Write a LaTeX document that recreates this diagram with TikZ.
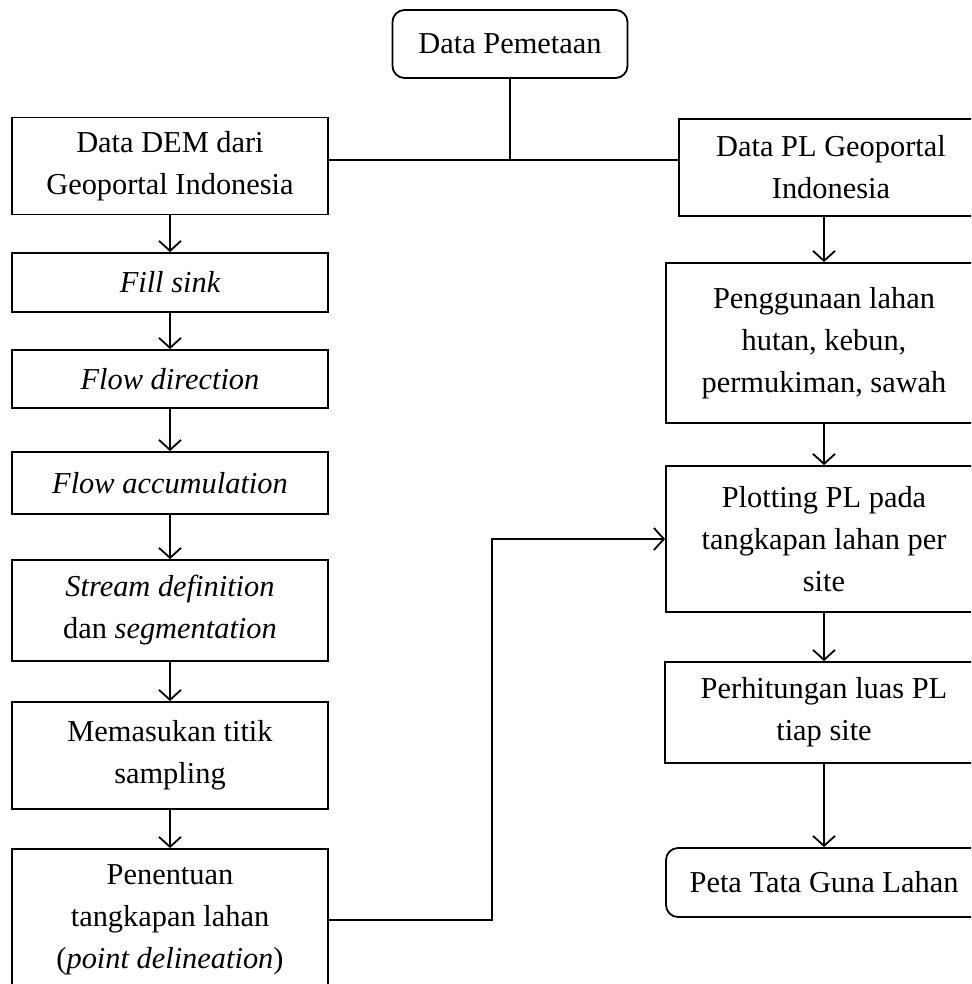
\documentclass[tikz,border=0pt]{standalone}
\usepackage{fontspec}
\setmainfont{Liberation Serif}
\usetikzlibrary{arrows.meta}

\tikzset{
  kotak/.style={draw, rectangle, align=center, inner sep=0pt, font=\fontsize{15.2}{21}\selectfont},
  bulat/.style={kotak, rounded corners=6pt},
}

\begin{document}
\begin{tikzpicture}[x=0.5pt,y=-0.5pt,line width=0.9pt,>={Straight Barb[length=5pt,width=11pt]}]
\clip (0,0) rectangle (971,984);
% sumber data
\node [bulat, minimum width=117.5pt, minimum height=34pt] (Sumber) at (510,44) {Data Pemetaan};
\coordinate (simpul) at (510,160);
\coordinate (belok) at (492,0);
% kolom kiri
\node [kotak, minimum width=158pt, minimum height=48.5pt] (DEM)   at (170,166) {Data DEM dari\\Geoportal Indonesia};
\node [kotak, minimum width=158pt, minimum height=29.5pt] (Fill)  at (170,282.5) {\itshape Fill sink};
\node [kotak, minimum width=158pt, minimum height=29pt]   (Arah)  at (170,379)   {\itshape Flow direction};
\node [kotak, minimum width=158pt, minimum height=31pt]   (Akum)  at (170,483)   {\itshape Flow accumulation};
\node [kotak, minimum width=158pt, minimum height=50.5pt] (Alur)  at (170,610.5) {\textit{Stream definition}\\dan \textit{segmentation}};
\node [kotak, minimum width=158pt, minimum height=53.5pt] (Titik) at (170,755.5) {Memasukan titik\\sampling};
\node [kotak, minimum width=158pt, minimum height=71pt]   (Tentu) at (170,920)   {Penentuan\\tangkapan lahan\\(\textit{point delineation})};
% kolom kanan
\node [kotak, minimum width=152pt, minimum height=48.5pt] (PL)     at (831,167.5) {Data PL Geoportal\\Indonesia};
\node [kotak, minimum width=158pt, minimum height=80pt]   (Guna)   at (824,343)   {Penggunaan lahan\\hutan, kebun,\\permukiman, sawah};
\node [kotak, minimum width=158pt, minimum height=73pt]   (Plot)   at (824,539)   {Plotting PL pada\\tangkapan lahan per\\site};
\node [kotak, minimum width=159pt, minimum height=50.5pt] (Hitung) at (824,712.5) {Perhitungan luas PL\\tiap site};
\node [bulat, minimum width=158pt, minimum height=34.5pt] (Hasil)  at (824,882.5) {Peta Tata Guna Lahan};
% garis
\draw (Sumber) -- (simpul);
\draw (DEM.east |- simpul) -- (PL.west |- simpul);
\foreach \a/\b in {DEM/Fill, Fill/Arah, Arah/Akum, Akum/Alur, Alur/Titik, Titik/Tentu}
  \draw [->] (\a) -- (\b);
\draw [->] (PL.south -| Guna.north) -- (Guna.north);
\foreach \a/\b in {Guna/Plot, Plot/Hitung, Hitung/Hasil}
  \draw [->] (\a) -- (\b);
\draw [->] (Tentu.east) -- (Tentu.east -| belok) |- (Plot.west);
\end{tikzpicture}
\end{document}
